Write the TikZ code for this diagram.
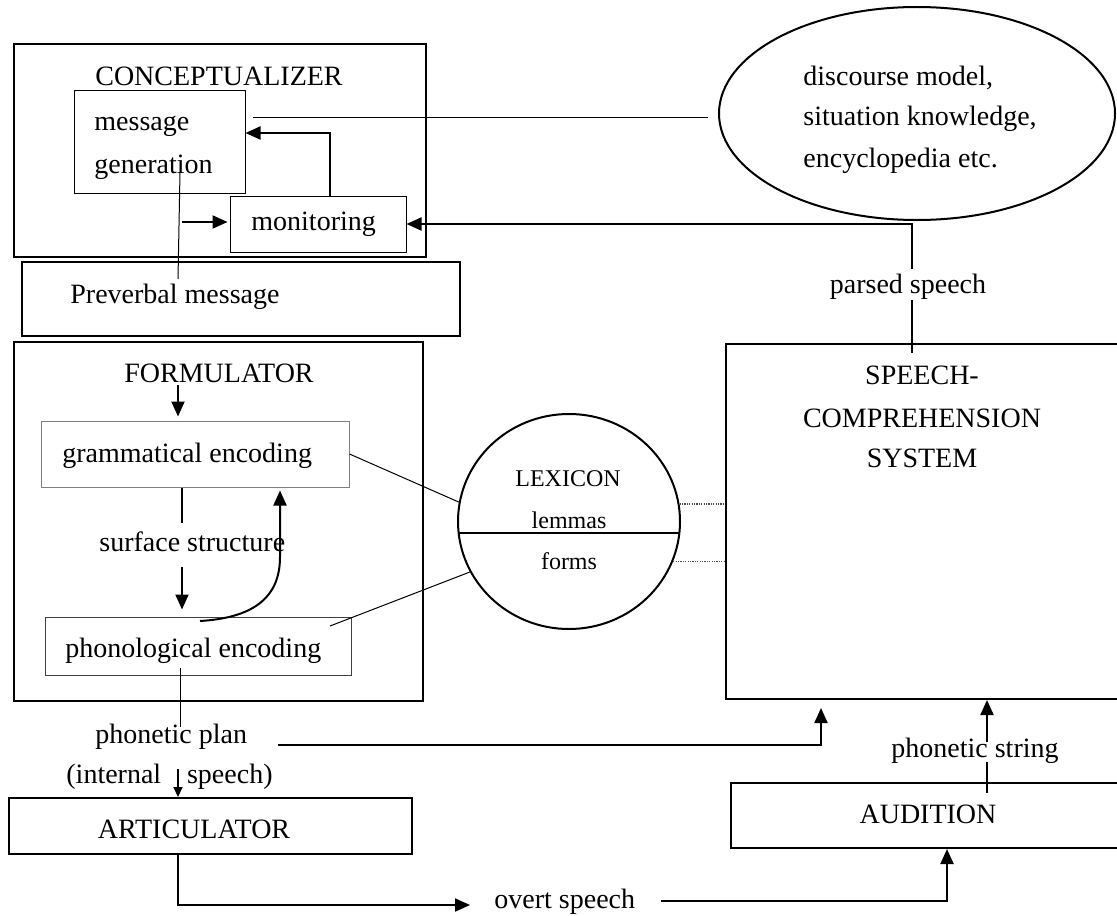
\documentclass[tikz,border=0pt]{standalone}
\usepackage{fontspec}
\setmainfont{Liberation Serif}
\usetikzlibrary{arrows.meta,shapes.geometric,fit,calc}
\begin{document}
\begin{tikzpicture}[x=0.5pt,y=-0.5pt,
  thickbox/.style={draw, line width=1pt, inner sep=0pt},
  thinbox/.style={draw, line width=0.5pt, inner sep=0pt},
  txt/.style={font=\fontsize{14}{16}\selectfont, inner sep=0pt},
  smalltxt/.style={font=\fontsize{12}{14}\selectfont, inner sep=0pt},
  conn/.style={line width=1pt},
  thinconn/.style={line width=0.5pt},
  arr/.style={line width=1pt, -{Triangle[length=7.5pt,width=6.5pt]}},
  arrsmall/.style={line width=1pt, -{Triangle[length=5pt,width=4.5pt]}},
  dotconn/.style={line width=0.7pt, dash pattern=on 0.6pt off 0.6pt, black!70}
]
\useasboundingbox (0,0) rectangle (1117,915);
\clip (0,0) rectangle (1117,915);

% boxes
\node[thickbox, fit={(14,44)(426,257)}] (concept) {};
\node[thinbox, fit={(74,91)(245,193)}] (msg) {};
\node[thinbox, fit={(230,196)(406,252)}] (mon) {};
\node[thickbox, fit={(22,262)(460,336)}] (preverbal) {};
\node[thickbox, fit={(14,342)(423,701)}] (form) {};
\node[thinbox, draw=gray, fit={(41,421)(349,487)}] (gram) {};
\node[thinbox, draw=black!75, fit={(45,617)(351,675)}] (phon) {};
\node[draw, line width=1pt, ellipse, minimum width=111pt, minimum height=107.5pt, inner sep=0pt] (lex) at (569,521.5) {};
\node[thickbox, fit={(726,344)(1140,699)}] (speech) {};
\node[draw, line width=1pt, ellipse, minimum width=198pt, minimum height=106.5pt, inner sep=0pt] (dm) at (917,113.5) {};
\node[thickbox, fit={(9,798)(412,854)}] (artic) {};
\node[thickbox, fit={(731,783)(1140,848)}] (aud) {};

% texts
\node[txt, anchor=base] (conceptT) at (219,85) {CONCEPTUALIZER};
\node[txt, anchor=base west] (msgT1) at (94,130) {message};
\node[txt, anchor=base west] (msgT2) at (94,173) {generation};
\node[txt, anchor=base west] (monT) at (251,230) {monitoring};
\node[txt, anchor=base west] (preT) at (70,303) {Preverbal message};
\node[txt, anchor=base] (formT) at (219,382) {FORMULATOR};
\node[txt, anchor=base west] (gramT) at (62,462) {grammatical encoding};
\node[txt, anchor=base west] (surfT) at (99,551) {surface structure};
\node[txt, anchor=base west] (phonT) at (65,657) {phonological encoding};
\node[smalltxt, anchor=base] (lexT) at (568,486) {LEXICON};
\node[smalltxt, anchor=base] (lemT) at (569,528) {lemmas};
\node[smalltxt, anchor=base] (formsT) at (569,569) {forms};
\node[txt, anchor=base] (sp1) at (922,384) {SPEECH-};
\node[txt, anchor=base] (sp2) at (922,427) {COMPREHENSION};
\node[txt, anchor=base] (sp3) at (922,467) {SYSTEM};
\node[txt, anchor=base] (parsedT) at (908,293) {parsed speech};
\node[txt, anchor=base west] (dm1) at (803,85) {discourse model,};
\node[txt, anchor=base west] (dm2) at (803,126) {situation knowledge,};
\node[txt, anchor=base west] (dm3) at (803,167) {encyclopedia etc.};
\node[txt, anchor=base west] (plan) at (95,743) {phonetic plan};
\node[txt, anchor=base west] (intA) at (66,783) {(internal};
\node[txt, anchor=base east] (intB) at (273,783) {speech)};
\node[txt, anchor=base] (articT) at (194,838) {ARTICULATOR};
\node[txt, anchor=base west] (overt) at (494,908) {overt speech};
\node[txt, anchor=base] (audT) at (928,823) {AUDITION};
\node[txt, anchor=base west] (pstr) at (891,757) {phonetic string};

% lexicon divider
\draw[line width=1pt] (458.6,533) -- (679.4,533);

% coordinates
\coordinate (a1) at (253,117);
\coordinate (a2) at (708,117);
\coordinate (c1) at (182,222);
\coordinate (d1) at (180,172);
\coordinate (d2) at (178,279);
\coordinate (e1) at (912,353);
\coordinate (e2) at (912,300);
\coordinate (e3) at (912,269);
\coordinate (f1) at (178,385);
\coordinate (g2) at (182,523);
\coordinate (h1) at (182,567);
\coordinate (k1) at (200,621);
\coordinate (k2) at (280,557);
\coordinate (l2) at (330,626);
\coordinate (m0) at (180,668);
\coordinate (m1) at (180,727);
\coordinate (n1) at (278,745);
\coordinate (n2) at (821,708);
\coordinate (p1) at (178,769);
\coordinate (q1) at (178,905);
\coordinate (q2) at (470,905);
\coordinate (r1) at (661,901);
\coordinate (r2) at (947,849);
\coordinate (s1) at (987,793);
\coordinate (s2) at (987,762);
\coordinate (s3) at (987,742);

% connectors
\draw[thinconn] (a1) -- (a2);
\draw[arr] ([xshift=6pt]mon.north) |- ([yshift=4.5pt]msg.east);
\draw[arr, shorten >=1pt] (c1) -- (mon.west |- c1);
\draw[thinconn] (d1) -- (d2);
\draw[conn] (e1) -- (e2);
\draw[arr] (e3) |- (mon.east);
\draw[arr, shorten >=2pt] (f1) -- (gram.north -| f1);
\draw[conn] (gram.south -| g2) -- (g2);
\draw[arr, shorten >=3.5pt] (h1) -- (phon.north -| h1);
\draw[arr] (k1) .. controls (250,618) and (280,600) .. (k2) -- ([yshift=-1.5pt]k2 |- gram.south);
\draw[thinconn] (gram.east) -- (lex.170);
\draw[thinconn] (lex.207) -- (l2);
\draw[dotconn] (lex.9) -- (lex.9 -| speech.west);
\draw[dotconn] (lex.-21.5) -- (lex.-21.5 -| speech.west);
\draw[thinconn] (m0) -- (m1);
\draw[arr] (n1) -| (n2);
\draw[arrsmall] (p1) -- (artic.north -| p1);
\draw[arr] (artic.south -| q1) |- (q2);
\draw[arr] (r1) -| (r2);
\draw[conn] (s1) -- (s2);
\draw[arr] (s3) -- (speech.south -| s3);
\end{tikzpicture}
\end{document}
